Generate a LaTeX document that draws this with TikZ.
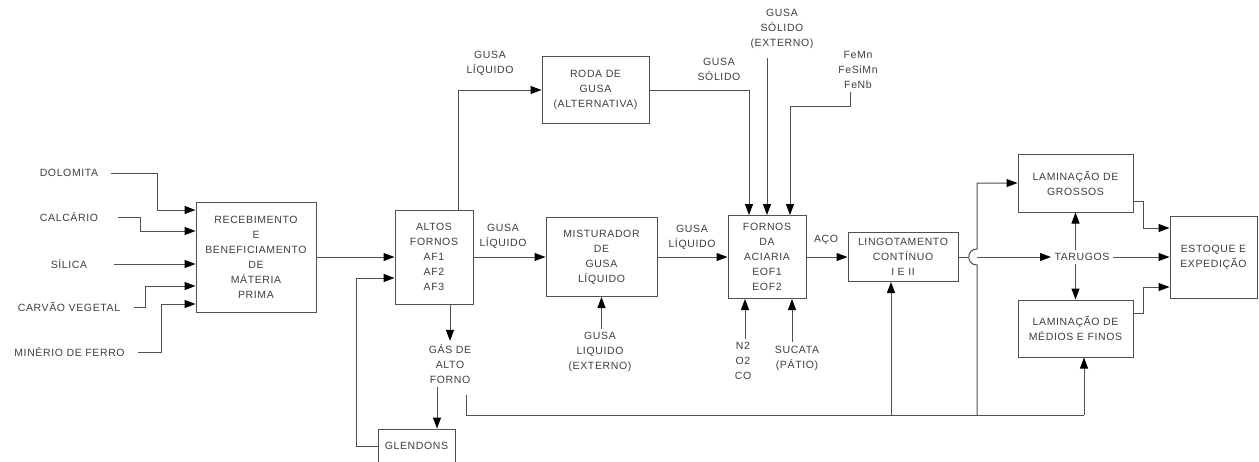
\documentclass[tikz,border=0pt]{standalone}
\usepackage{fontspec}
\setmainfont{Liberation Sans}[LetterSpace=6]
\usepackage{tikz}
\usetikzlibrary{positioning,arrows.meta}
\definecolor{txtgray}{RGB}{60,60,72}
\definecolor{linegray}{RGB}{80,80,80}

\begin{document}
\begin{tikzpicture}[x = 1pt, y = -1pt,
    every node/.style = { align = center, text = txtgray, font = \fontsize{10.5}{15}\selectfont },
    box/.style = { draw = linegray, line width = 1pt, inner sep = 2pt },
    wire/.style = { draw = linegray, line width = 1pt },
    flow/.style = { wire, -{Triangle[length = 11pt, width = 8pt, black]} }]
  \useasboundingbox (0,0) rectangle (1259,461);
  \clip (0,0) rectangle (1259,461);

  % boxes
  \node [box, minimum width = 120, minimum height = 110] (receb) at (256,257) {RECEBIMENTO \\ E \\ BENEFICIAMENTO \\ DE \\ MÁTERIA \\ PRIMA};
  \node [box, minimum width = 78, minimum height = 94] (altos) at (434,257) {ALTOS \\ FORNOS \\ AF1 \\ AF2 \\ AF3};
  \node [box, minimum width = 107, minimum height = 67] (roda) at (595.5,90) {RODA DE \\ GUSA \\ (ALTERNATIVA)};
  \node [box, minimum width = 111, minimum height = 79] (mist) at (601.5,257) {MISTURADOR \\ DE \\ GUSA \\ LÍQUIDO};
  \node [box, minimum width = 78, minimum height = 83] (fornos) at (767,257) {FORNOS \\ DA \\ ACIARIA \\ EOF1 \\ EOF2};
  \node [box, minimum width = 110, minimum height = 49] (lingot) at (903,257) {LINGOTAMENTO \\ CONTÍNUO \\ I E II};
  \node [box, minimum width = 115, minimum height = 58] (grossos) at (1075.5,183) {LAMINAÇÃO DE \\ GROSSOS};
  \node [box, minimum width = 115, minimum height = 57] (medios) at (1075.5,328.5) {LAMINAÇÃO DE \\ MÉDIOS E FINOS};
  \node [box, minimum width = 87, minimum height = 82] (estoque) at (1213.5,257) {ESTOQUE E \\ EXPEDIÇÃO};
  \node [box, minimum width = 77, minimum height = 34] (glendons) at (416.5,446) {GLENDONS};

  % labels
  \node (dolomita) at (69,173) {DOLOMITA};
  \node (calcario) at (69,217) {CALCÁRIO};
  \node (silica) at (69,264) {SÍLICA};
  \node (carvao) at (69,307) {CARVÃO VEGETAL};
  \node (minerio) at (69.5,352) {MINÉRIO DE FERRO};
  \node (gusaA) at (490,63) {GUSA \\ LÍQUIDO};
  \node (gusaB) at (503,236) {GUSA \\ LÍQUIDO};
  \node (gusaC) at (692,237) {GUSA \\ LÍQUIDO};
  \node (gusaSol) at (719,69) {GUSA \\ SÓLIDO};
  \node (gusaExt) at (782,29) {GUSA \\ SÓLIDO \\ (EXTERNO)};
  \node (ferro) at (858,70) {FeMn \\ FeSiMn \\ FeNb};
  \node (gusaLiq) at (600,352) {GUSA \\ LIQUIDO \\ (EXTERNO)};
  \node (gas) at (450,364) {GÁS DE \\ ALTO \\ FORNO};
  \node (gases) at (743,361) {N2 \\ O2 \\ CO};
  \node (sucata) at (797,358) {SUCATA \\ (PÁTIO)};
  \node (aco) at (826,240) {AÇO};
  \node (tarugos) at (1082,257) {TARUGOS};

  \coordinate (gasout) at (466,395);
  \coordinate (busend) at (1084,415);
  \coordinate (hop) at (977,257);

  % raw materials
  \draw [flow, shorten <= 9pt] (dolomita.east) -| (157,210) -- (receb.west |- 0,210);
  \draw [flow, shorten <= 16pt] (calcario.east) -| (140,231) -- (receb.west |- 0,231);
  \draw [flow, shorten <= 23pt] (silica.east) -- (receb.west |- 0,264);
  \draw [flow, shorten <= 10pt] (carvao.east) -| (145,286) -- (receb.west |- 0,286);
  \draw [flow, shorten <= 10pt] (minerio.east) -| (161,304) -- (receb.west |- 0,304);

  % blast furnaces
  \draw [flow] (receb.east) -- (altos.west);
  \draw [flow] (glendons.west) -| (356,278) -- (altos.west |- 0,278);
  \draw [flow] ([xshift = 24pt]altos.north) |- (roda.west);
  \draw [flow] (altos.east) -- (mist.west);
  \draw [flow] ([xshift = 16pt]altos.south) -- (gas.north);
  \draw [flow] (gas.south -| 437,0) -- (glendons.north -| 437,0);
  \draw [flow] (gusaLiq.north -| mist.south) -- (mist.south);

  % steel shop
  \draw [flow] (mist.east) -- (fornos.west);
  \draw [flow] (roda.east) -| ([xshift = -18pt]fornos.north);
  \draw [flow, shorten <= 6pt] (gusaExt.south -| fornos.north) -- (fornos.north);
  \draw [flow] ([xshift = -8pt]ferro.south) |- (790,106) -- ([xshift = 23pt]fornos.north);
  \draw [flow] (gases.north -| 745,0) -- (fornos.south -| 745,0);
  \draw [flow] (sucata.north -| 792,0) -- (fornos.south -| 792,0);
  \draw [flow] (fornos.east) -- (lingot.west);

  % gas line
  \draw [wire] (gasout) |- (busend);
  \draw [flow] (busend) -- (busend |- medios.south);
  \draw [flow] ([xshift = -12pt]lingot.south |- busend) -- ([xshift = -12pt]lingot.south);
  \draw [flow] (busend -| hop) -- ([yshift = -8pt]hop) .. controls +(-11,0) and +(-11,0) .. ([yshift = 8pt]hop) |- (grossos.west);

  % rolling mills
  \draw [wire] (lingot.east) -- ([xshift = -8pt]hop);
  \draw [flow] (hop) -- (tarugos.west);
  \draw [flow] (tarugos.north -| grossos.south) -- (grossos.south);
  \draw [flow] (tarugos.south -| medios.north) -- (medios.north);
  \draw [flow] (tarugos.east) -- (estoque.west);
  \draw [flow] ([yshift = -18pt]grossos.east) -| (1143,228) -- (estoque.west |- 0,228);
  \draw [flow] ([yshift = 15pt]medios.east) -| (1143,287) -- (estoque.west |- 0,287);
\end{tikzpicture}
\end{document}
